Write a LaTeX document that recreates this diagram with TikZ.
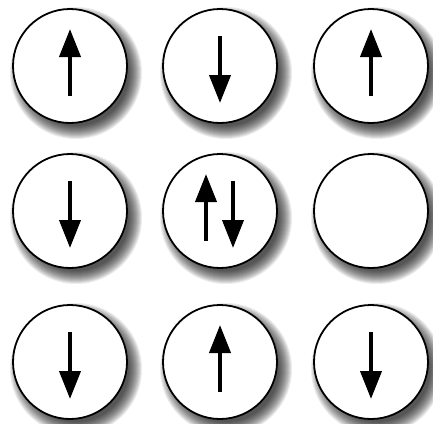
\documentclass[tikz,border=0pt]{standalone}
\usetikzlibrary{arrows.meta,calc}
\begin{document}
\begin{tikzpicture}[x=1pt,y=-1pt,
  site/.style={circle,draw=black,line width=1.8pt,fill=white,minimum size=114pt,inner sep=0pt},
  spin/.style={line width=4pt,-{Triangle[length=28pt,width=21pt]}}]
\useasboundingbox (0,0) rectangle (433,423);
% soft shadows
\foreach \x/\y in {70/66,220/66,371/66,70/211,220/211,371/211,70/362,220/362,371/362}{
  \foreach \i in {0,...,13}{
    \fill[black,opacity=0.075] (\x+6,\y+7) circle [radius={(66-\i)*1pt}];
  }
}
% sites
\node[site] (a1) at (70,66) {};
\node[site] (a2) at (220,66) {};
\node[site] (a3) at (371,66) {};
\node[site] (b1) at (70,211) {};
\node[site] (b2) at (220,211) {};
\node[site] (b3) at (371,211) {};
\node[site] (c1) at (70,362) {};
\node[site] (c2) at (220,362) {};
\node[site] (c3) at (371,362) {};
% spins
\draw[spin] ($(a1)+(0,30)$) -- ($(a1)+(0,-37)$);
\draw[spin] ($(a2)+(0,-30)$) -- ($(a2)+(0,37)$);
\draw[spin] ($(a3)+(0,30)$) -- ($(a3)+(0,-37)$);
\draw[spin] ($(b1)+(0,-30)$) -- ($(b1)+(0,37)$);
\draw[spin] ($(b2)+(-14,30)$) -- ($(b2)+(-14,-37)$);
\draw[spin] ($(b2)+(13,-30)$) -- ($(b2)+(13,37)$);
\draw[spin] ($(c1)+(0,-30)$) -- ($(c1)+(0,37)$);
\draw[spin] ($(c2)+(0,30)$) -- ($(c2)+(0,-37)$);
\draw[spin] ($(c3)+(0,-30)$) -- ($(c3)+(0,37)$);
\end{tikzpicture}
\end{document}
